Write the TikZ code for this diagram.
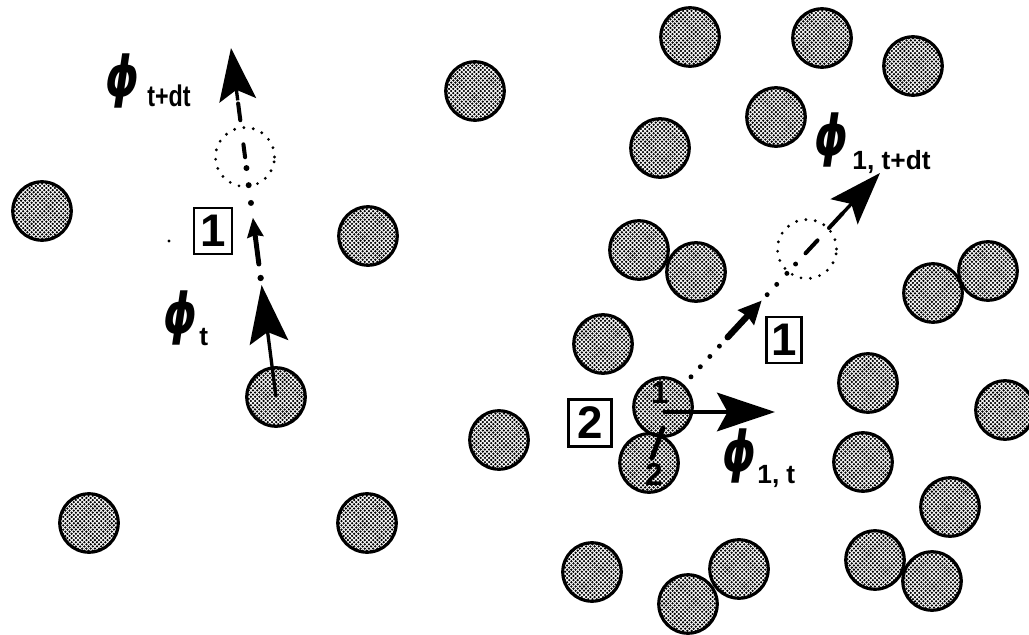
\documentclass[tikz,border=0pt]{standalone}
\usepackage{fontspec}
\setmainfont{Liberation Sans}
\newfontfamily\phifont{DejaVu Sans}
\usetikzlibrary{arrows.meta,patterns,calc}

% halftone dot screen used for the particle discs
\pgfdeclarepatternformonly{halftone}{\pgfqpoint{-1pt}{-1pt}}{\pgfqpoint{3.4pt}{3.4pt}}{\pgfqpoint{2.4pt}{2.4pt}}{%
  \pgfpathcircle{\pgfqpoint{0pt}{0pt}}{0.72pt}%
  \pgfpathcircle{\pgfqpoint{1.2pt}{1.2pt}}{0.72pt}%
  \pgfusepath{fill}}

\newcommand{\phiglyph}{\scalebox{0.76}[1]{ϕ}}

\begin{document}
\begin{tikzpicture}[x=0.02cm,y=-0.02cm,
  particle/.style={circle,draw,line width=1.8pt,pattern=halftone,minimum size=1.17cm,inner sep=0pt},
  ghost/.style={circle,draw,line width=1.8pt,dash pattern=on 0pt off 5.4pt,line cap=round,minimum size=1.18cm,inner sep=0pt},
  velarrow/.style={line width=1.9pt,-{Stealth[length=33pt,width=22pt,inset=6pt]}},
  headonly/.style={line width=1.9pt,-{Stealth[length=30pt,width=21pt,inset=6pt]}},
  stepmark/.style={line width=2.8pt,line cap=round,-{Stealth[length=11pt,width=9pt,inset=1pt]}},
  stepmarkb/.style={line width=3.6pt,line cap=round,-{Stealth[length=13pt,width=12pt,inset=1pt]}},
  dashseg/.style={line width=2.3pt,line cap=round},
  numbox/.style={draw,line width=1.3pt,inner sep=0pt,font=\fontsize{26}{26}\selectfont\bfseries},
  tag/.style={inner sep=0pt,font=\fontsize{18}{18}\selectfont\bfseries},
  phisym/.style={inner sep=0pt,anchor=south west,font=\fontsize{32}{32}\selectfont\phifont\bfseries\itshape},
  subtext/.style={inner sep=0pt,anchor=base west,font=\fontsize{15}{15}\selectfont\bfseries}]

\useasboundingbox (0,0) rectangle (1029,635);
\clip (0,0) rectangle (1029,635);

% ---------- left panel: dilute system ----------
\foreach \px/\py [count=\i] in {42/211,475/91,368/236,499/440,89/523,367/523}
  \node[particle] (a\i) at (\px,\py) {};
\node[particle] (pl) at (276,397) {};
\node[ghost] (gl) at (245,157) {};
\coordinate (lt) at (231,48);

% velocity at t
\draw[velarrow] (pl.center) -- ($(pl.center)!0.321!(lt)$);
% step of type 1 along the direction of motion
\fill ($(pl.center)!0.341!(lt)$) circle[radius=1.8pt];
\draw[stepmark] ($(pl.center)!0.381!(lt)$) -- ($(pl.center)!0.514!(lt)$);
\foreach \f in {0.556,0.607,0.656}
  \fill ($(pl.center)!\f!(lt)$) circle[radius=1.7pt];
\draw[dashseg] ($(pl.center)!0.687!(lt)$) -- ($(pl.center)!0.724!(lt)$);
\draw[dashseg] ($(pl.center)!0.793!(lt)$) -- ($(pl.center)!0.841!(lt)$);
\draw[headonly] ($(pl.center)!0.850!(lt)$) -- (lt);

\node[numbox,minimum width=0.76cm,minimum height=0.92cm] (boxa) at (213,231) {1};
\fill (169,241) circle[radius=0.9pt];

\node[phisym] (phit) at (163,346) {\phiglyph};
\node[subtext] (phit-s) at (199,345) {t};
\node[phisym] (phitdt) at (105,109) {\phiglyph};
\node[subtext,font=\fontsize{17}{17}\selectfont\bfseries] (phitdt-s) at (147,107) {\scalebox{0.78}[1]{t+dt}};

% ---------- right panel: dense system ----------
\foreach \px/\py [count=\i] in {690/37,822/38,913/66,776/117,660/148,639/250,696/272,603/344,
  933/293,988/271,868/383,1005/410,863/462,950/507,592/572,739/569,688/604,875/560,932/581}
  \node[particle] (b\i) at (\px,\py) {};
\node[particle] (pr) at (663,407) {};
\node[particle] (pq) at (649,463) {};
\node[ghost] (gr) at (807,249) {};
\coordinate (rt) at (880,173);
\coordinate (fv) at (775,412);

% trial displacement of type 1
\foreach \f in {0.129,0.172,0.216,0.260}
  \fill ($(pr.center)!\f!(rt)$) circle[radius=1.4pt];
\draw[stepmarkb] ($(pr.center)!0.298!(rt)$) -- ($(pr.center)!0.455!(rt)$);
\foreach \f in {0.48,0.524,0.571,0.611}
  \fill ($(pr.center)!\f!(rt)$) circle[radius=1.4pt];
\draw[dashseg] ($(pr.center)!0.657!(rt)$) -- ($(pr.center)!0.712!(rt)$);
\draw[dashseg] ($(pr.center)!0.765!(rt)$) -- ($(pr.center)!0.828!(rt)$);
\draw[headonly] ($(pr.center)!0.830!(rt)$) -- (rt);

% velocity at t
\draw[velarrow] (pr.center |- fv) -- (fv);

% particle tags and the type-2 link between them
\node[tag] (n1) at (660,393) {1};
\node[tag] (n2) at (654,474) {2};
\draw[line width=2.8pt,line cap=round] ($(n1)+(3,35)$) -- ($(n2)+(-2,-16)$);

\node[numbox,minimum width=0.70cm,minimum height=0.92cm] (boxb) at (784,340) {1};
\node[numbox,minimum width=0.86cm,minimum height=0.94cm] (boxc) at (590,423) {2};

\node[phisym] (phione) at (722,484) {\phiglyph};
\node[subtext] (phione-s) at (757,483) {1,\hspace{4pt}t};
\node[phisym] (phionedt) at (814,168) {\phiglyph};
\node[subtext] (phionedt-s) at (852,170) {1, t+dt};
\end{tikzpicture}
\end{document}
